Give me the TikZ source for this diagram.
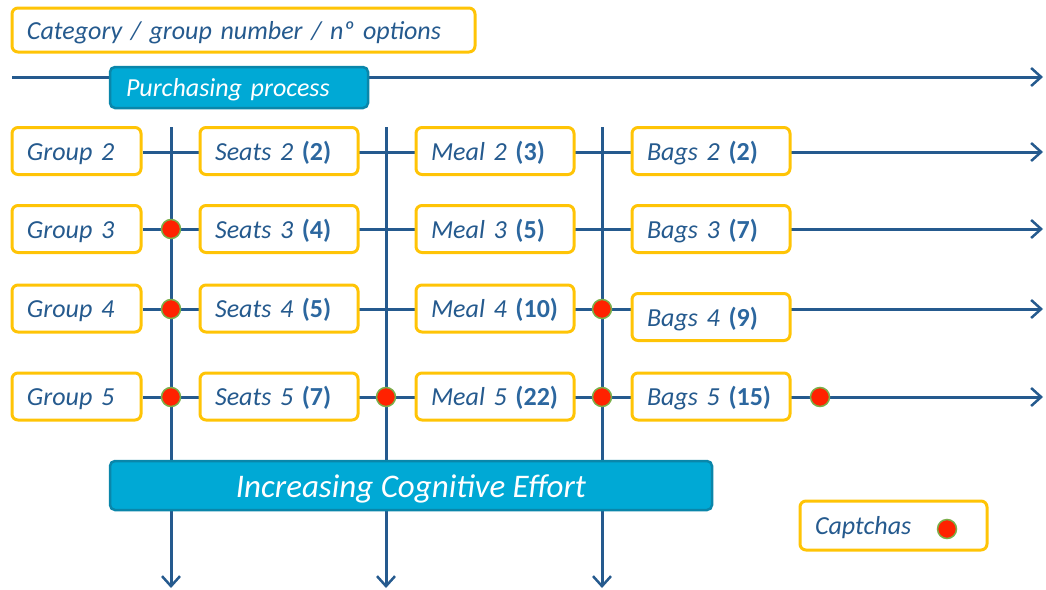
\documentclass[tikz,border=0pt]{standalone}
\usepackage{fontspec}
\setmainfont{Carlito}
\usetikzlibrary{arrows.meta,backgrounds}
\definecolor{navy}{HTML}{255A8E}
\definecolor{numblue}{HTML}{2C679F}
\definecolor{gold}{HTML}{FFC406}
\definecolor{cyanfill}{HTML}{00A9D5}
\definecolor{cyanedge}{HTML}{0A86AA}
\definecolor{dotred}{HTML}{FF2200}
\definecolor{dotrim}{HTML}{7BAF4A}
\tikzset{
  optbox/.style={draw=gold, line width=3pt, rounded corners=6pt, fill=white,
    inner xsep=15pt, inner ysep=0pt, align=left, text=navy,
    text height=21pt, text depth=3pt,
    font=\fontsize{26}{30}\selectfont\itshape},
  bandbox/.style={draw=cyanedge, line width=2.5pt, rounded corners=5pt, fill=cyanfill,
    inner sep=0pt, text=white},
  flow/.style={draw=navy, line width=3pt, -{Straight Barb[length=10pt,width=18pt,line width=2.5pt]}},
  captcha/.style={circle, fill=dotred, draw=dotrim, line width=1.5pt, minimum size=19pt, inner sep=0pt},
}
\newcommand{\opt}[2]{#1 {\upshape\bfseries\color{numblue}(#2)}}
\begin{document}
\begin{tikzpicture}[x=1pt,y=-1pt]
\useasboundingbox (0,0) rectangle (1046,589);

% legend of the box labels
\node[optbox, text width=433pt, minimum height=44pt] (cat) at (243.5,30) {Category / group number / nº options};

% process band
\coordinate (pstart) at (12,77);
\coordinate (pend) at (1043,77);
\node[bandbox, minimum width=258pt, minimum height=41pt, text width=226pt, align=left,
  text height=21pt, text depth=3pt,
  font=\fontsize{26}{30}\selectfont\itshape] (purch) at (239,87.5) {Purchasing process};

% option boxes: rows are groups, columns are stages
\foreach \r/\y/\s/\m/\b/\by in {2/151/2/3/2/151, 3/229/4/5/7/229, 4/308.5/5/10/9/317, 5/396.5/7/22/15/396.5}{
  \node[optbox, text width=99pt, minimum height=47pt] (g\r) at (76.5,\y) {Group \r};
  \node[optbox, text width=128pt, minimum height=47pt] (s\r) at (279,\y) {\opt{Seats \r}{\s}};
  \node[optbox, text width=128pt, minimum height=47pt] (m\r) at (495,\y) {\opt{Meal \r}{\m}};
  \node[optbox, text width=128pt, minimum height=47pt] (b\r) at (711,\by) {\opt{Bags \r}{\b}};
}

% effort band and captcha legend
\node[bandbox, minimum width=602pt, minimum height=49pt, text height=26pt, text depth=3pt,
  font=\fontsize{33}{36}\selectfont\itshape] (effort) at (411,485.5) {Increasing Cognitive Effort};
\node[optbox, text width=157pt, minimum height=49pt] (capt) at (893.5,525.5) {Captchas};
\node[captcha] (dlegend) at (947,529) {};

% end points of the stage and group flows
\foreach \c/\x in {1/171, 2/386, 3/602}{
  \coordinate (vtop\c) at (\x,127);
  \coordinate (vend\c) at (\x,588);
}
\foreach \r/\y in {2/152, 3/229, 4/309, 5/397}{
  \coordinate (hend\r) at (1043,\y);
}

% captchas on the crossings
\node[captcha] (c31) at (171,229) {};
\node[captcha] (c41) at (171,309) {};
\node[captcha] (c43) at (602,309) {};
\node[captcha] (c51) at (171,397) {};
\node[captcha] (c52) at (386,397) {};
\node[captcha] (c53) at (602,397) {};
\node[captcha] (c54) at (820,397) {};

\begin{scope}[on background layer]
  \draw[flow] (pstart) -- (pend);
  \foreach \c in {1,2,3}{ \draw[flow] (vtop\c) -- (vend\c); }
  \foreach \r in {2,3,4,5}{ \draw[flow] (g\r.east |- hend\r) -- (hend\r); }
\end{scope}
\end{tikzpicture}
\end{document}
